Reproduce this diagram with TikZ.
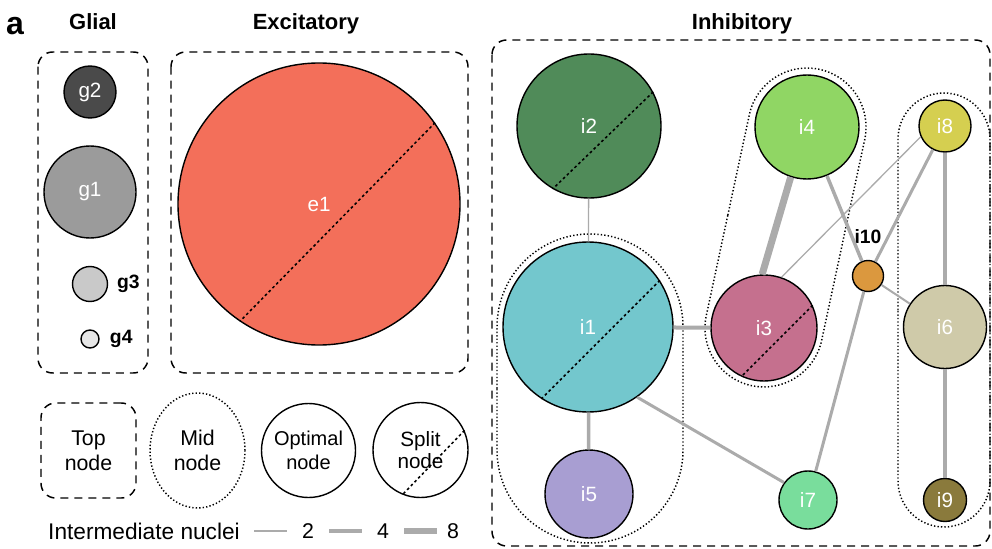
\documentclass[tikz,border=0pt]{standalone}
\usepackage{fontspec}
\setmainfont{Liberation Sans}
\usetikzlibrary{positioning,shapes.misc,shapes.geometric}

\definecolor{linkgray}{HTML}{ABABAB}
\definecolor{gtwo}{HTML}{4A4A4A}
\definecolor{gone}{HTML}{9B9B9B}
\definecolor{gthree}{HTML}{C9C9C9}
\definecolor{gfour}{HTML}{E6E6E6}
\definecolor{eone}{HTML}{F36F5A}
\definecolor{ione}{HTML}{73C7CD}
\definecolor{itwo}{HTML}{508B59}
\definecolor{ithree}{HTML}{C5708E}
\definecolor{ifour}{HTML}{90D664}
\definecolor{ifive}{HTML}{A89ED2}
\definecolor{isix}{HTML}{CFCAA9}
\definecolor{iseven}{HTML}{79DD9C}
\definecolor{ieight}{HTML}{D5CF50}
\definecolor{inine}{HTML}{8A7A3C}
\definecolor{iten}{HTML}{DB983E}

\begin{document}
\begin{tikzpicture}[x=0.75pt, y=-0.75pt,
  nuc/.style={circle, draw=black, line width=1.05pt, inner sep=0pt, minimum size=#1*1.5pt,
    text=white, font=\fontsize{15.5}{17}\selectfont},
  cut/.style={black, line width=1.15pt, dash pattern=on 2pt off 2pt},
  topbox/.style={draw=black, line width=1.1pt, dash pattern=on 6pt off 4.5pt, rounded corners=11pt},
  midbox/.style={draw=black, line width=1.1pt, dash pattern=on 1pt off 1.6pt},
  link/.style={draw=linkgray, line width=#1*0.75pt},
  head/.style={anchor=base, inner sep=0pt, font=\fontsize{16.5}{18}\selectfont\bfseries},
  tag/.style={inner sep=0pt, font=\fontsize{14.5}{16}\selectfont\bfseries},
  key/.style={inner sep=0pt, align=center, font=\fontsize{16}{18.5}\selectfont}]
\useasboundingbox (0,0) rectangle (992,549);

% headings
\node[inner sep=0pt, font=\fontsize{24}{24}\selectfont\bfseries] (panel) at (15,26.5) {a};
\node[head] (glialhead) at (93,30) {Glial};
\node[head] (exchead) at (306,30) {Excitatory};
\node[head] (inhhead) at (742,30) {Inhibitory};

% top nodes
\draw[topbox] (38,52) rectangle (148,373);
\draw[topbox] (171,52) rectangle (468,373);
\draw[topbox] (492,40) rectangle (990,546);

% mid nodes
\node[midbox, rounded rectangle, inner sep=0pt, minimum width=309*0.75pt, minimum height=186*0.75pt,
  rotate=90] (midleft) at (590,388.5) {};
\node[midbox, rounded rectangle, inner sep=0pt, minimum width=323.5*0.75pt, minimum height=118*0.75pt,
  rotate=77.9] (midcentre) at (785.5,227.5) {};
\node[midbox, rounded rectangle, inner sep=0pt, minimum width=434*0.75pt, minimum height=92*0.75pt,
  rotate=90] (midright) at (944,310) {};

% glial
\node[nuc=26, fill=gtwo] (g2) at (90,92) {g2};
\node[nuc=46, fill=gone] (g1) at (90,192) {g1};
\node[nuc=17.5, fill=gthree] (g3) at (90,284) {};
\node[nuc=9, fill=gfour] (g4) at (90,339) {};
\node[tag, right=6.4pt of g3] (g3tag) {g3};
\node[tag, right=7.5pt of g4] (g4tag) {g4};

% excitatory
\node[nuc=141, fill=eone] (e1) at (319,204) {e1};
\draw[cut] (e1.35) -- (e1.236);

% inhibitory
\node[nuc=72, fill=itwo] (i2) at (589,126) {i2};
\node[nuc=85, fill=ione] (i1) at (588,327) {i1};
\node[nuc=44, fill=ifive] (i5) at (589,494) {i5};
\node[nuc=53, fill=ithree] (i3) at (764,328) {i3};
\node[nuc=52, fill=ifour] (i4) at (807,127) {i4};
\node[nuc=15.5, fill=iten] (i10) at (868,276) {};
\node[tag, above=12pt of i10] (i10tag) {i10};
\node[nuc=29, fill=iseven] (i7) at (808,500) {i7};
\node[nuc=26, fill=ieight] (i8) at (945,126) {i8};
\node[nuc=41.5, fill=isix] (i6) at (945,327) {i6};
\node[nuc=21.5, fill=inine] (i9) at (945,500) {i9};
\draw[cut] (i2.28) -- (i2.240);
\draw[cut] (i1.33) -- (i1.237);
\draw[cut] (i3.25) -- (i3.245);

% intermediate nuclei
\draw[link=1.3] (i2) -- (i1);
\draw[link=3.5] (i1) -- (i5);
\draw[link=4] (i1) -- (i3);
\draw[link=3] (i1.-55) -- (i7.144);
\draw[link=7] (i4.252) -- (i3.92);
\draw[link=3.5] (i4) -- (i10);
\draw[link=1.3] (i8.204) -- (i3.71);
\draw[link=3] (i8) -- (i10);
\draw[link=2] (i10) -- (i6);
\draw[link=3] (i10) -- (i7);
\draw[link=4] (i8) -- (i6);
\draw[link=4] (i6) -- (i9);

% legend
\node[key, topbox, minimum width=95*0.75pt, minimum height=95*0.75pt] (topkey) at (88.5,450.5) {Top\\node};
\node[key, midbox, draw, ellipse, minimum width=95*0.75pt, minimum height=115*0.75pt] (midkey) at (197.5,450.5) {Mid\\node};
\node[key, nuc=47, text=black, fill=none, font=\fontsize{15}{17.5}\selectfont] (optkey) at (308.5,450.5) {Optimal\\node};
\node[key, nuc=47.5, text=black, fill=none] (splitkey) at (420.5,450) {Split\\node};
\draw[cut] (splitkey.24) -- (splitkey.248);

\node[key, font=\fontsize{17}{19}\selectfont] (nuclei) at (144,531) {Intermediate nuclei};
\node[key] (two) at (308,531) {2};
\node[key] (four) at (383,531) {4};
\node[key] (eight) at (453,531) {8};
\draw[link=1.3] (254,531) -- (287,531);
\draw[link=3.3] (329,531) -- (362,531);
\draw[link=6.7] (404,531) -- (437,531);
\end{tikzpicture}
\end{document}
